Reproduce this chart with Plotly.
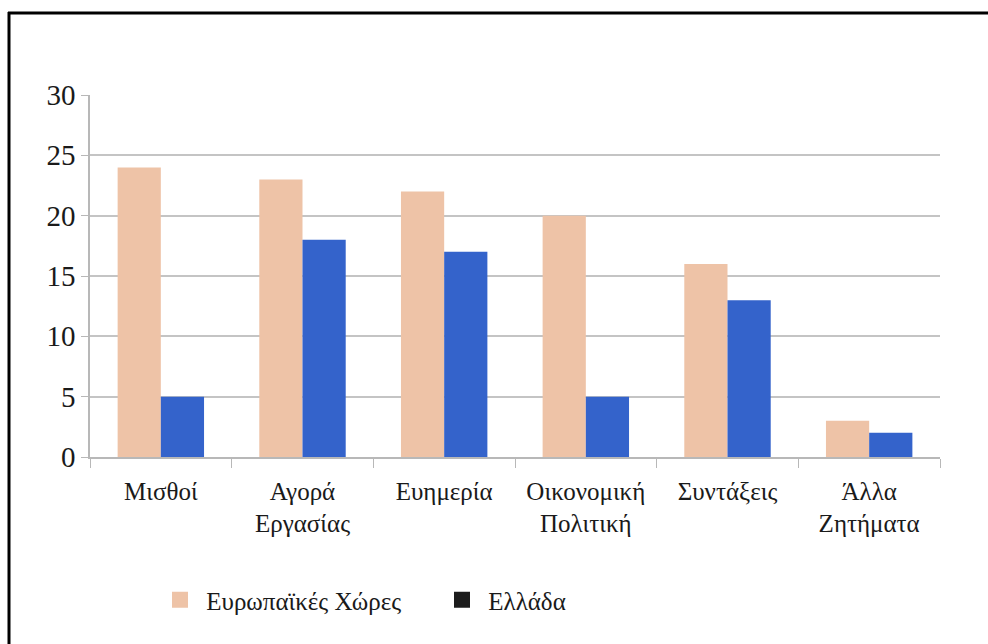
import plotly.graph_objects as go

categories = ["Μισθοί", "Αγορά<br>Εργασίας", "Ευημερία", "Οικονομική<br>Πολιτική", "Συντάξεις", "Άλλα<br>Ζητήματα"]
europe = [24, 23, 22, 20, 16, 3]
greece = [5, 18, 17, 5, 13, 2]
series_names = ["\u00a0Ευρωπαϊκές Χώρες", "\u00a0Ελλάδα"]
bar_colors = ["#EEC3A7", "#3463CB"]
legend_colors = ["#EEC3A7", "#1c1c1c"]
y_ticks = [0, 5, 10, 15, 20, 25, 30]

FONT = "Liberation Serif, Times New Roman, serif"

fig = go.Figure()
for name, vals, col in zip(series_names, [europe, greece], bar_colors):
    fig.add_trace(go.Bar(x=categories, y=vals, name=name, marker_color=col,
                         marker_line_width=0, showlegend=False))
for name, col in zip(series_names, legend_colors):
    fig.add_trace(go.Scatter(x=[None], y=[None], mode="markers", name=name,
                             marker=dict(symbol="square", size=21, color=col)))

L, R, T, B = 90, 48, 95, 187
W, H = 988, 644
pw, ph = W - L - R, H - T - B

def px_x(x):
    return (x - L) / pw

def px_y(y):
    return (H - B - y) / ph

fig.update_layout(
    width=W, height=H,
    margin=dict(l=L, r=R, t=T, b=B),
    paper_bgcolor="white", plot_bgcolor="white",
    font=dict(family=FONT, size=25, color="#1a1a1a"),
    barmode="group", bargap=0.39, bargroupgap=0,
    showlegend=True,
    legend=dict(orientation="h", x=px_x(160), y=px_y(577), xanchor="left", yanchor="top",
                font=dict(family=FONT, size=25), itemwidth=30, entrywidth=237,
                bgcolor="rgba(0,0,0,0)"),
    xaxis=dict(showgrid=False, showline=True, linecolor="#b8b8b8", linewidth=1.5,
               ticks="outside", tickson="boundaries", ticklen=9, tickcolor="#b8b8b8",
               tickfont=dict(family=FONT, size=25), ticklabelstandoff=11),
    yaxis=dict(range=[0, 30], tickvals=y_ticks, showgrid=True, gridcolor="#c4c4c4", gridwidth=1.5,
               showline=True, linecolor="#b8b8b8", linewidth=1.5, zeroline=False,
               ticks="outside", ticklen=7, tickcolor="#b8b8b8",
               tickfont=dict(family=FONT, size=29)),
    shapes=[
        dict(type="line", xref="paper", yref="paper", x0=px_x(8), x1=px_x(990), y0=px_y(13), y1=px_y(13),
             line=dict(color="black", width=3)),
        dict(type="line", xref="paper", yref="paper", x0=px_x(9), x1=px_x(9), y0=px_y(12), y1=px_y(650),
             line=dict(color="black", width=3)),
    ],
)

fig.write_html("out.html")
